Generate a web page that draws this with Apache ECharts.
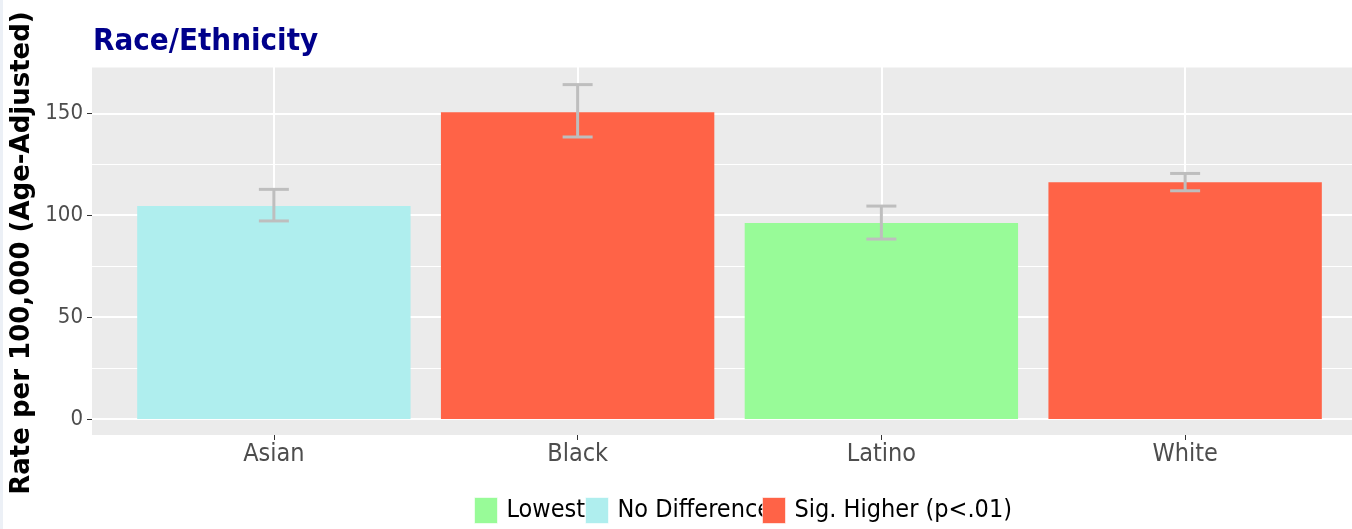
<!DOCTYPE html>
<html>
<head>
<meta charset="utf-8">
<script src="https://cdn.jsdelivr.net/npm/echarts@6/dist/echarts.min.js"></script>
<style>
html,body{margin:0;padding:0;background:#fff;}
#chart{width:1352px;height:529px;}
#strip{position:absolute;left:0;top:0;width:3px;height:529px;background:#ECF0F6;}
</style>
</head>
<body>
<div id="chart"></div>
<div id="strip"></div>
<script>
var categories = ['Asian', 'Black', 'Latino', 'White'];
var rates = [104.5, 150.5, 96.2, 116.2];
var lowerCI = [97.2, 138.4, 88.3, 112.0];
var upperCI = [112.7, 164.1, 104.5, 120.5];
var groups = ['No Difference', 'Sig. Higher (p<.01)', 'Lowest', 'Sig. Higher (p<.01)'];
var legendNames = ['Lowest', 'No Difference', 'Sig. Higher (p<.01)'];
var legendColors = ['#98FB98', '#AFEEEE', '#FF6347'];
var yTicks = [0, 50, 100, 150];

var FONT = 'DejaVu Sans Condensed, DejaVu Sans, sans-serif';
var YMAX = 172.5;   // visible top of the panel
var YMAX_GRID = 200; // grid axis max (extends above panel, lines there are white on white)
var PX_PER_UNIT = (419 - 67.5) / YMAX;

var chart = echarts.init(document.getElementById('chart'), null, {renderer: 'canvas'});

var barSeries = legendNames.map(function (name, k) {
  return {
    name: name,
    type: 'bar',
    stack: 'all',
    xAxisIndex: 0,
    yAxisIndex: 0,
    barWidth: '90%',
    itemStyle: {color: legendColors[k]},
    emphasis: {disabled: true},
    data: rates.map(function (v, i) { return groups[i] === name ? v : '-'; }),
    z: 2
  };
});

var errorSeries = {
  type: 'custom',
  xAxisIndex: 0,
  yAxisIndex: 0,
  z: 5,
  silent: true,
  encode: {x: 0, y: [1, 2]},
  data: categories.map(function (c, i) { return [i, lowerCI[i], upperCI[i]]; }),
  renderItem: function (params, api) {
    var x = api.value(0);
    var lo = api.coord([x, api.value(1)]);
    var hi = api.coord([x, api.value(2)]);
    var half = 15;
    var st = {stroke: '#BEBEBE', lineWidth: 3};
    return {
      type: 'group',
      children: [
        {type: 'line', shape: {x1: hi[0], y1: hi[1], x2: lo[0], y2: lo[1]}, style: st},
        {type: 'line', shape: {x1: hi[0] - half, y1: hi[1], x2: hi[0] + half, y2: hi[1]}, style: st},
        {type: 'line', shape: {x1: lo[0] - half, y1: lo[1], x2: lo[0] + half, y2: lo[1]}, style: st}
      ]
    };
  }
};

function legendFor(k, left) {
  return {
    data: [legendNames[k]],
    left: left,
    top: 497,
    padding: 0,
    itemWidth: 23,
    itemHeight: 26,
    itemGap: 0,
    icon: 'rect',
    selectedMode: false,
    itemStyle: {borderColor: 'rgba(255,255,255,0.6)', borderWidth: 1},
    textStyle: {fontFamily: FONT, fontSize: 25, color: '#000', padding: [0, 0, 0, 4]}
  };
}

var gridTop1 = 419 - YMAX_GRID * PX_PER_UNIT;

var option = {
  animation: false,
  backgroundColor: '#fff',
  title: {
    text: 'Race/Ethnicity',
    left: 88,
    top: 21,
    textStyle: {fontFamily: FONT, fontSize: 31, fontWeight: 'bold', color: '#00008B'}
  },
  legend: [legendFor(0, 474), legendFor(1, 585), legendFor(2, 762)],
  graphic: [
    {type: 'rect', z: -10, silent: true, shape: {x: 92, y: 67.5, width: 1300, height: 367.5}, style: {fill: '#EBEBEB'}},
    {type: 'text', silent: true, x: 22, y: 253, rotation: Math.PI / 2,
     style: {text: 'Rate per 100,000 (Age-Adjusted)', fill: '#000', font: 'bold 26px DejaVu Sans, sans-serif', align: 'center', verticalAlign: 'middle'}}
  ],
  grid: [
    {left: 122, width: 1215, top: 67.5, bottom: 110, containLabel: false},
    {left: 92, right: -20, top: gridTop1, bottom: 110, containLabel: false, show: false}
  ],
  xAxis: [
    {
      type: 'category', gridIndex: 0, data: categories, position: 'bottom', offset: 16,
      axisLine: {show: false},
      axisTick: {show: true, inside: true, alignWithLabel: true, length: 367.5, lineStyle: {color: '#fff', width: 2}},
      axisLabel: {fontFamily: FONT, fontSize: 25, color: '#4D4D4D', margin: 7},
      splitLine: {show: false}
    },
    {
      type: 'category', gridIndex: 0, data: categories, position: 'bottom', offset: 16,
      axisLine: {show: false},
      axisTick: {show: true, inside: false, alignWithLabel: true, length: 5, lineStyle: {color: '#333', width: 1}},
      axisLabel: {show: false},
      splitLine: {show: false}
    },
    {type: 'value', gridIndex: 1, min: 0, max: 1, show: false}
  ],
  yAxis: [
    {type: 'value', gridIndex: 0, min: 0, max: YMAX, show: false},
    {
      type: 'value', gridIndex: 1, min: 0, max: YMAX_GRID, interval: 50,
      axisLine: {show: false},
      axisTick: {show: true, length: 5, customValues: yTicks, lineStyle: {color: '#333', width: 1}},
      axisLabel: {fontFamily: FONT, fontSize: 22, color: '#4D4D4D', margin: 9, customValues: yTicks,
        formatter: function (v) { return yTicks.indexOf(v) >= 0 ? String(v) : ''; }},
      splitLine: {show: true, lineStyle: {color: '#fff', width: 2}},
      minorTick: {show: false, splitNumber: 2},
      minorSplitLine: {show: true, lineStyle: {color: '#fff', width: 1}}
    }
  ],
  series: barSeries.concat([errorSeries])
};

chart.setOption(option);
</script>
</body>
</html>
